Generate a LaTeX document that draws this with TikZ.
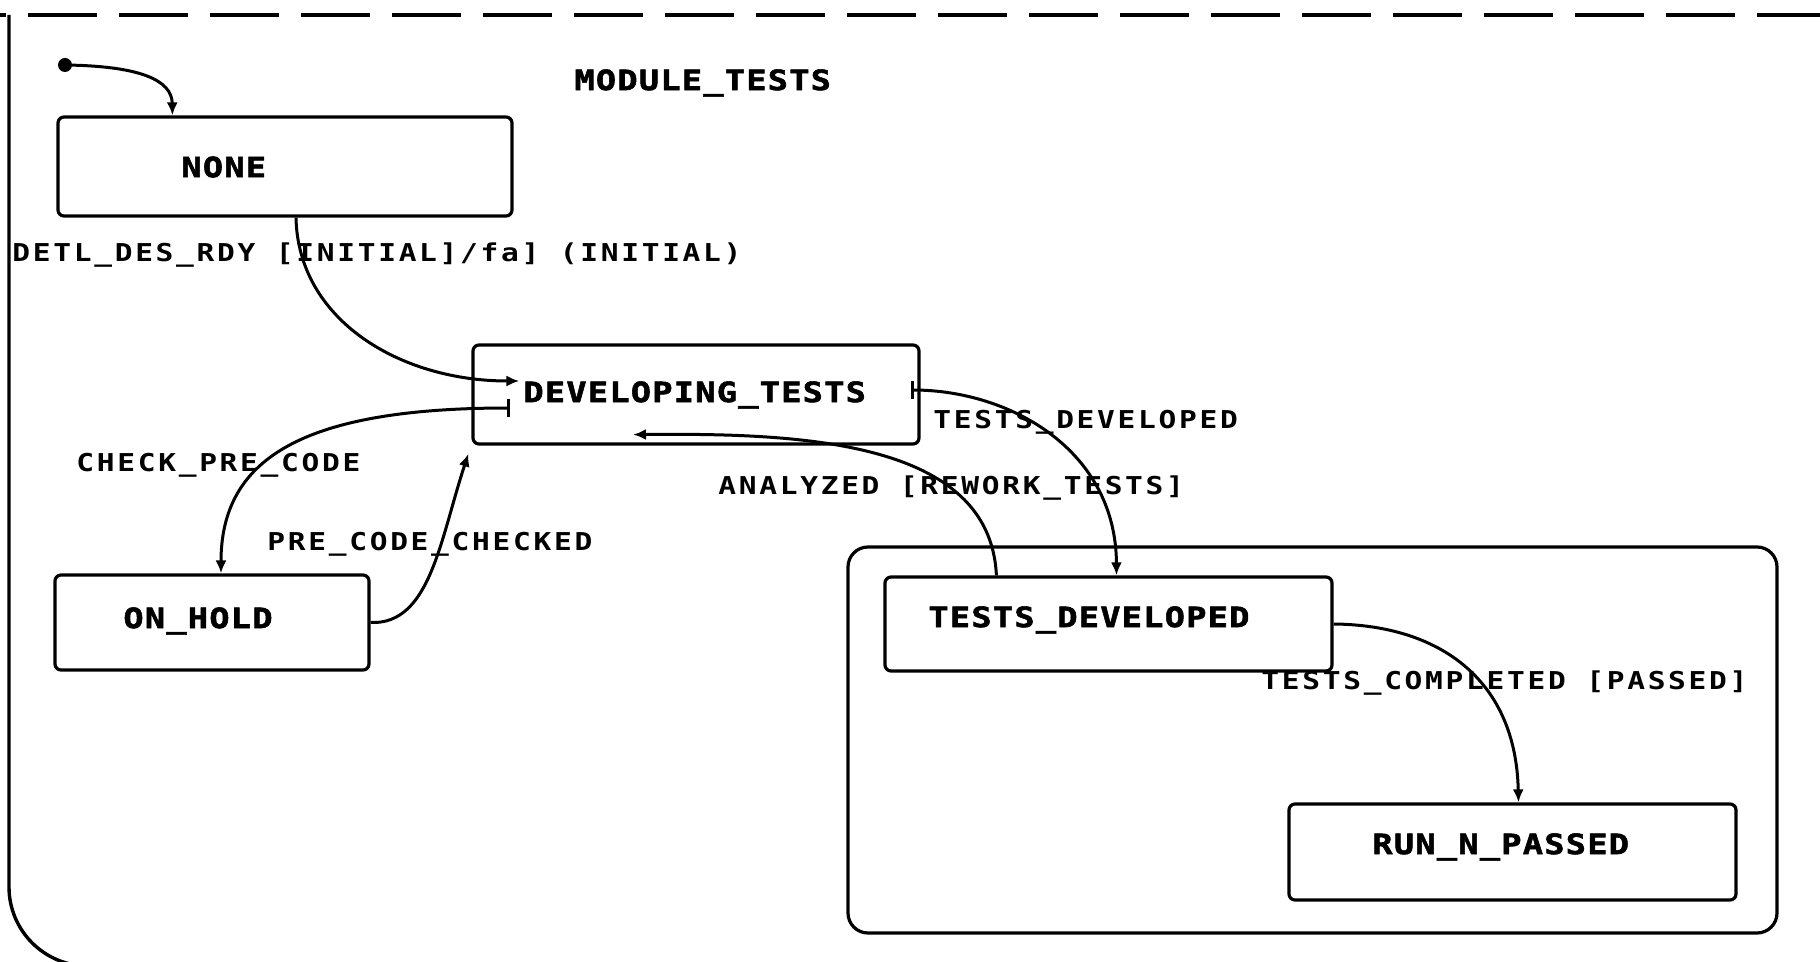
\documentclass[tikz,border=0pt]{standalone}
\usepackage{fontspec}
\usepackage{tikz}
\usetikzlibrary{arrows.meta, calc}
\newfontfamily\stfont{DejaVu Sans Mono}[UprightFont=* Bold, FakeStretch=1.2, LetterSpace=4.5, FakeBold=2]
\newfontfamily\trfont{DejaVu Sans Mono}[UprightFont=* Bold, FakeStretch=1.2, LetterSpace=11]

\begin{document}
\begin{tikzpicture}[x=0.5pt, y=-0.5pt,
    state/.style={draw, line width=1.6pt, rounded corners=3pt, inner sep=0pt},
    stname/.style={font=\stfont\fontsize{14pt}{14pt}\selectfont, anchor=west, inner sep=0pt},
    trname/.style={font=\trfont\fontsize{12.3pt}{12.3pt}\selectfont, anchor=west, inner sep=0pt},
    trans/.style={line width=1.5pt, arrows={-Latex[length=6.5pt,width=5.5pt]}},
    trbar/.style={line width=1.5pt, arrows={Bar[width=9pt,line width=1.5pt]-Latex[length=6.5pt,width=5.5pt]}},
    frame/.style={line width=1.7pt}]
  \useasboundingbox (0,0) rectangle (1820,962);
  \clip (0,0) rectangle (1820,962);

  % outer state
  \draw[frame, dash pattern=on 34.5pt off 11pt] (-63,15) -- (1820,15);
  \draw[frame, rounded corners=39.5pt] (9,15) -- (9,966) -- (600,966);
  \node[stname] (modlbl) at (574,83) {MODULE\_TESTS};

  % states
  \node[state, minimum width=227pt, minimum height=49.5pt] (none) at (285,166.5) {};
  \node[stname] (nonelbl) at (181,167) {NONE};
  \node[state, minimum width=223pt, minimum height=49.5pt] (devel) at (696,394.5) {};
  \node[stname] (devellbl) at (523,395) {DEVELOPING\_TESTS};
  \node[state, minimum width=157pt, minimum height=47.5pt] (onhold) at (212,622.5) {};
  \node[stname] (onholdlbl) at (123,621) {ON\_HOLD};
  \node[state, rounded corners=10pt, minimum width=464.5pt, minimum height=193pt] (devgroup) at (1312.5,740) {};
  \node[state, minimum width=223.5pt, minimum height=47pt] (testsdev) at (1108.5,624) {};
  \node[stname] (testsdevlbl) at (928,620) {TESTS\_DEVELOPED};
  \node[state, minimum width=223.5pt, minimum height=48pt] (runpassed) at (1512.5,852) {};
  \node[stname] (runpassedlbl) at (1372,847) {RUN\_N\_PASSED};

  % transitions
  \coordinate (init) at (65,65);
  \fill (init) circle (3.5pt);
  \draw[trans] (init) .. controls (140,66) and (172,80) .. ($(none.north west)+(116,0)$);
  \draw[trans] ($(none.south)+(11,0)$) .. controls (298,320) and (400,381) .. ($(devel.west)+(48,-13.5)$);
  \node[trname] (detllbl) at (12,255) {DETL\_DES\_RDY [INITIAL]/fa] (INITIAL)};

  \draw[trbar] ($(devel.west)+(39,13.5)$) .. controls (300,408) and (221,460) .. ($(onhold.north)+(9,0)$);
  \node[trname] (checklbl) at (76,465) {CHECK\_PRE\_CODE};
  \draw[trans] (onhold.east) .. controls (430,625) and (440,540) .. ($(devel.south west)+(-3,8)$);
  \node[trname] (checkedlbl) at (267,544) {PRE\_CODE\_CHECKED};

  \draw[trbar] ($(devel.east)+(-10,-4.5)$) .. controls (1010,390) and (1116,450) .. ($(testsdev.north)+(8,0)$);
  \node[trname] (devdonelbl) at (933,422) {TESTS\_DEVELOPED};
  \draw[trans] ($(testsdev.north west)+(113,0)$) .. controls (990,440) and (800,433) .. ($(devel.south)+(-63,-11)$);
  \node[trname] (reworklbl) at (718,488) {ANALYZED [REWORK\_TESTS]};

  \draw[trans] (testsdev.east) .. controls (1440,625) and (1516,680) .. ($(runpassed.north)+(6,0)$);
  \node[trname] (passedlbl) at (1261,683) {TESTS\_COMPLETED [PASSED]};
\end{tikzpicture}
\end{document}
